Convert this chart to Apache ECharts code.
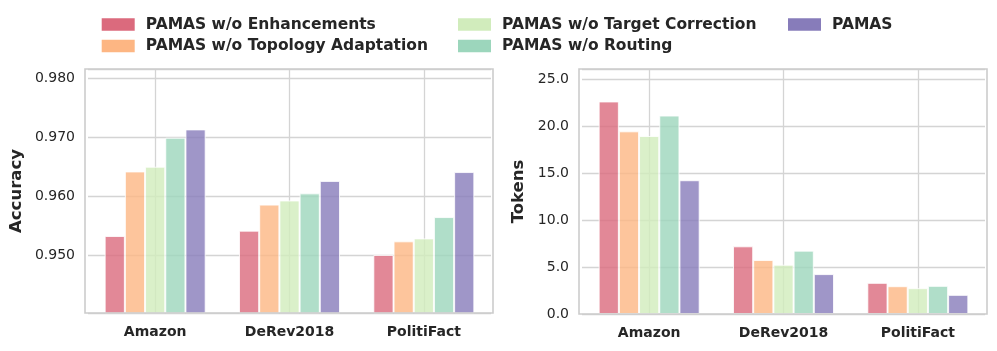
<!DOCTYPE html>
<html>
<head>
<meta charset="utf-8">
<script src="https://cdn.jsdelivr.net/npm/echarts@6/dist/echarts.min.js"></script>
<style>
    html, body { margin: 0; padding: 0; background: #fff; }
    #main { width: 997px; height: 351px; }
</style>
</head>
<body>
<div id="main"></div>
<script>
let categories = ["Amazon", "DeRev2018", "PolitiFact"];
let variants = [
    "PAMAS w/o Enhancements",
    "PAMAS w/o Topology Adaptation",
    "PAMAS w/o Target Correction",
    "PAMAS w/o Routing",
    "PAMAS"
];
let colors = ["#db6a7d", "#fdb683", "#d1ecbc", "#9cd6bc", "#877cba"];

// accuracy per variant, order follows categories
let accEnh = [0.9533, 0.9542, 0.9501];
let accTopo = [0.9642, 0.9586, 0.9524];
let accTarget = [0.9650, 0.9593, 0.9529];
let accRouting = [0.9699, 0.9605, 0.9565];
let accFull = [0.9713, 0.9626, 0.9641];

// tokens per variant
let tokEnh = [22.64, 7.21, 3.32];
let tokTopo = [19.46, 5.75, 2.96];
let tokTarget = [18.96, 5.25, 2.75];
let tokRouting = [21.14, 6.75, 3.00];
let tokFull = [14.25, 4.25, 2.04];

let accData = [accEnh, accTopo, accTarget, accRouting, accFull];
let tokData = [tokEnh, tokTopo, tokTarget, tokRouting, tokFull];

let font = "DejaVu Sans";
let ink = "#262626";
let gridColor = "#d4d4d4";

function xAxisFor(idx) {
    return {
        type: "category",
        gridIndex: idx,
        data: categories,
        axisLine: {show: false},
        axisTick: {show: false},
        axisLabel: {
            margin: 12, color: ink, fontFamily: font,
            fontSize: 14, fontWeight: "bold"
        },
        splitLine: {show: true, alignWithLabel: true, lineStyle: {color: gridColor, width: 1.3}}
    };
}

function yAxisFor(idx, name, min, max, digits, gap) {
    return {
        type: "value",
        gridIndex: idx,
        min: min,
        max: max,
        name: name,
        nameLocation: "middle",
        nameGap: gap,
        nameTextStyle: {color: ink, fontFamily: font, fontSize: 16.5, fontWeight: "bold"},
        axisLine: {show: false},
        axisTick: {show: false},
        axisLabel: {
            margin: 13, color: ink, fontFamily: font, fontSize: 14,
            showMinLabel: digits === 1, showMaxLabel: false,
            formatter: function (v) { return v.toFixed(digits); }
        },
        splitLine: {show: true, lineStyle: {color: gridColor, width: 1.3}}
    };
}

let series = [];
[accData, tokData].forEach(function (group, g) {
    group.forEach(function (vals, i) {
        series.push({
            type: "bar",
            name: variants[i],
            xAxisIndex: g,
            yAxisIndex: g,
            data: vals,
            barWidth: 20.2,
            barGap: "0%",
            itemStyle: {color: colors[i], opacity: 0.8, borderColor: "#fff", borderWidth: 1}
        });
    });
});

// matplotlib style legend: 3 columns, filled column-wise
let legendPos = [
    [101.7, 16.5], [101.7, 38],
    [458, 16.5], [458, 38],
    [788, 16.5]
];
let legends = variants.map(function (v, i) {
    return {
        data: [v],
        left: legendPos[i][0],
        top: legendPos[i][1],
        padding: 0,
        itemWidth: 33,
        itemHeight: 12.5,
        icon: "rect",
        selectedMode: false,
        itemStyle: {opacity: 1, borderWidth: 0},
        textStyle: {
            color: ink, fontFamily: font, fontSize: 15.5, fontWeight: "bold",
            padding: [0, 0, 0, 6]
        }
    };
});

// plot frames sit slightly outside the category range, like matplotlib margins
let frames = [[85, 69, 408, 244], [579, 69, 408, 245]].map(function (f) {
    return {
        type: "rect",
        z: 10, silent: true,
        shape: {x: f[0], y: f[1], width: f[2], height: f[3]},
        style: {fill: null, stroke: "#cccccc", lineWidth: 1.6}
    };
});

let chart = echarts.init(document.getElementById("main"), null, {renderer: "canvas"});
chart.setOption({
    backgroundColor: "#fff",
    animation: false,
    legend: legends,
    graphic: frames,
    grid: [
        {left: 88, right: 506, top: 69, bottom: 38},
        {left: 582, right: 12, top: 69, bottom: 37}
    ],
    xAxis: [xAxisFor(0), xAxisFor(1)],
    yAxis: [
        yAxisFor(0, "Accuracy", 0.9403, 0.9815, 3, 63),
        yAxisFor(1, "Tokens", 0, 26.1, 1, 55)
    ],
    series: series
});
</script>
</body>
</html>
